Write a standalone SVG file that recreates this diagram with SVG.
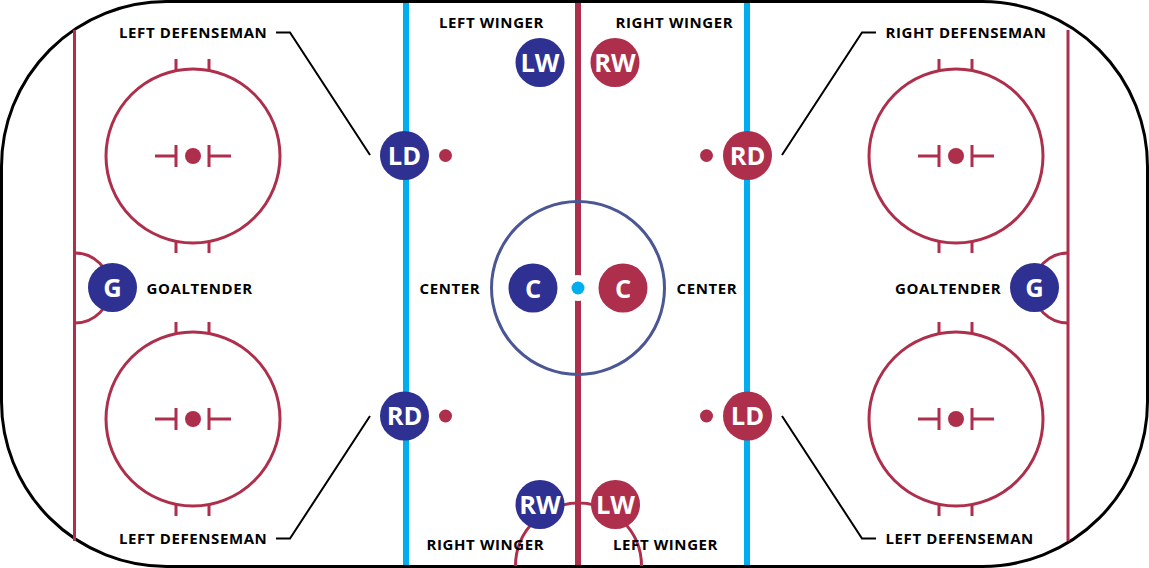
<svg xmlns="http://www.w3.org/2000/svg" width="1149" height="568" viewBox="0 0 1149 568">
<style>
.r{fill:none;stroke:#ae2f4c;stroke-width:3}
.c{fill:none;stroke:#000;stroke-width:2}
.h{fill:#ae2f4c;stroke:none}
.n{fill:#2e3191}
.m{fill:#ae2f4c}
text{font-family:"Open Sans","Noto Sans",sans-serif;font-weight:700}
.t{font-size:25.500px;fill:#fff;text-anchor:middle}
.l{font-size:15px;fill:#000;letter-spacing:.6px}
</style>
<defs>
<g id="face">
<circle class="r" r="87"/>
<circle class="h" r="8"/>
<path class="r" d="M-38 0H-17M-17-11V11M16-11V11M16 0H38M-17-97V-85M16-97V-85M-17 85V97M16 85V97"/>
</g>
</defs>
<g id="rink">
<rect x="1.500" y="1.500" width="1146" height="565" rx="165" ry="165" fill="#fff" stroke="#000" stroke-width="3"/>
<path class="r" d="M74.500 30V541M1068 30V541"/>
<path class="r" d="M75 253A35 35 0 0 1 75 323M1068 253A35 35 0 0 0 1068 323"/>
<path class="r" d="M515.500 566A63 63 0 0 1 641.500 566"/>
<use href="#face" x="193" y="156"/>
<use href="#face" x="193" y="419"/>
<use href="#face" x="956" y="156"/>
<use href="#face" x="956" y="419"/>
<path d="M406 3V565M747 3V565" fill="none" stroke="#00aeef" stroke-width="6"/>
<path d="M578 3V565" fill="none" stroke="#ae2f4c" stroke-width="6"/>
<circle cx="578" cy="288" r="86.500" fill="none" stroke="#4b5694" stroke-width="3"/>
<circle cx="578" cy="288" r="13" fill="#fff"/>
<circle cx="578" cy="288" r="6.500" fill="#00aeef"/>
<circle class="h" cx="445.500" cy="155.500" r="6.500"/>
<circle class="h" cx="706.500" cy="155.500" r="6.500"/>
<circle class="h" cx="445.500" cy="416" r="6.500"/>
<circle class="h" cx="706.500" cy="416" r="6.500"/>
</g>
<g id="connectors">
<path class="c" d="M276 32.500H290L370 155"/>
<path class="c" d="M276 538.500H290L370 416"/>
<path class="c" d="M876 32.500H862L782 155"/>
<path class="c" d="M876 538.500H862L782 416"/>
</g>
<g id="node-ld-home"><circle class="n" cx="404.500" cy="155.500" r="24.500"/><text class="t" x="404.500" y="164.500">LD</text></g>
<g id="node-rd-home"><circle class="n" cx="404.500" cy="416" r="24.500"/><text class="t" x="404.500" y="425">RD</text></g>
<g id="node-lw-home"><circle class="n" cx="540" cy="62.500" r="24.500"/><text class="t" x="540" y="72">LW</text></g>
<g id="node-rw-home"><circle class="n" cx="540" cy="504.500" r="24.500"/><text class="t" x="540" y="514">RW</text></g>
<g id="node-c-home"><circle class="n" cx="533" cy="288" r="24.500"/><text class="t" x="533" y="297.500">C</text></g>
<g id="node-g-home"><circle class="n" cx="112.500" cy="287.500" r="24.500"/><text class="t" x="112.500" y="297">G</text></g>
<g id="node-rd-away"><circle class="m" cx="747.500" cy="155.500" r="24.500"/><text class="t" x="747.500" y="164.500">RD</text></g>
<g id="node-ld-away"><circle class="m" cx="747.500" cy="416" r="24.500"/><text class="t" x="747.500" y="425">LD</text></g>
<g id="node-rw-away"><circle class="m" cx="615" cy="62.500" r="24.500"/><text class="t" x="615" y="72">RW</text></g>
<g id="node-lw-away"><circle class="m" cx="615.500" cy="504.500" r="24.500"/><text class="t" x="615.500" y="514">LW</text></g>
<g id="node-c-away"><circle class="m" cx="623" cy="288" r="24.500"/><text class="t" x="623" y="297.500">C</text></g>
<g id="node-g-away"><circle class="n" cx="1034.500" cy="287.500" r="24.500"/><text class="t" x="1034.500" y="297">G</text></g>
<g id="labels">
<text class="l" x="119" y="37.500">LEFT DEFENSEMAN</text>
<text class="l" x="119" y="544">LEFT DEFENSEMAN</text>
<text class="l" x="885.500" y="37.500">RIGHT DEFENSEMAN</text>
<text class="l" x="885.500" y="544">LEFT DEFENSEMAN</text>
<text class="l" x="439" y="28">LEFT WINGER</text>
<text class="l" x="615.500" y="28">RIGHT WINGER</text>
<text class="l" x="426.500" y="550">RIGHT WINGER</text>
<text class="l" x="613" y="550">LEFT WINGER</text>
<text class="l" x="419.500" y="294">CENTER</text>
<text class="l" x="676.500" y="294">CENTER</text>
<text class="l" x="146.500" y="294">GOALTENDER</text>
<text class="l" x="895" y="294">GOALTENDER</text>
</g>
</svg>
